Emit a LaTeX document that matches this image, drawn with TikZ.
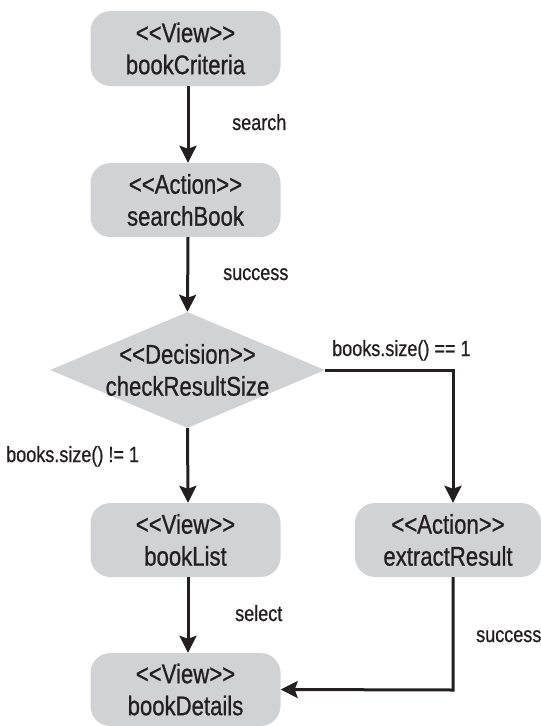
\documentclass[tikz,border=0pt]{standalone}
\usepackage{fontspec}
\setmainfont{Liberation Sans}[FakeStretch=0.82,FakeBold=0.8]
\usetikzlibrary{shapes.geometric,arrows.meta}
\definecolor{boxgray}{HTML}{D1D2D4}
\definecolor{ink}{HTML}{231F20}
\newcommand\lgl{<\kern0pt<}
\newcommand\rgl{>\kern0pt>}
\begin{document}
\begin{tikzpicture}[x=1pt,y=-1pt,
  statebox/.style={rectangle,rounded corners=20pt,fill=boxgray,text=ink,
    align=center,inner sep=0pt,font=\fontsize{27}{32}\selectfont},
  decbox/.style={diamond,fill=boxgray,inner sep=0pt,
    minimum width=275pt,minimum height=116pt},
  boxtext/.style={text=ink,align=center,inner sep=0pt,font=\fontsize{27}{32}\selectfont},
  flow/.style={line width=3pt,draw=ink,line join=miter,
    -{Stealth[length=17pt,width=17pt,inset=3pt]}},
  lbl/.style={text=ink,inner sep=0pt,anchor=base west,font=\fontsize{22}{24}\selectfont}]
\useasboundingbox (0,0) rectangle (541,726);
\node[statebox,minimum width=190pt,minimum height=75pt] (crit) at (185.5,48.5) {\lgl View\rgl\\bookCriteria};
\node[statebox,minimum width=190pt,minimum height=74pt] (sb) at (185.5,200) {\lgl Action\rgl\\searchBook};
\node[decbox] (dec) at (187.5,370) {};
\node[boxtext] (dectext) at (dec.center) {\lgl Decision\rgl\\checkResultSize};
\node[statebox,minimum width=190pt,minimum height=74pt] (list) at (185.5,540) {\lgl View\rgl\\bookList};
\node[statebox,minimum width=186pt,minimum height=74pt] (ext) at (448,540) {\lgl Action\rgl\\extractResult};
\node[statebox,minimum width=190pt,minimum height=73pt] (det) at (185.5,689.5) {\lgl View\rgl\\bookDetails};
\coordinate (c1) at (453,370);
\coordinate (c2) at (453,690);
\draw[flow] (crit.south -| 188,0) -- (sb.north -| 188,0);
\draw[flow] (sb.south -| 188,0) -- (dec.north);
\draw[flow] (dec.south) -- (list.north -| 188,0);
\draw[flow] (list.south -| 188,0) -- (det.north -| 188,0);
\draw[flow] (dec.east) -- (c1) -- (ext.north -| c1);
\draw[flow] (ext.south -| c2) -- (c2) -- (det.east);
\node[lbl] (l1) at (232,130) {search};
\node[lbl] (l2) at (223,280) {success};
\node[lbl] (l3) at (332,356) {books.size() == 1};
\node[lbl] (l4) at (6,462) {books.size() != 1};
\node[lbl] (l5) at (235,621) {select};
\node[lbl] (l6) at (476,642) {success};
\end{tikzpicture}
\end{document}
